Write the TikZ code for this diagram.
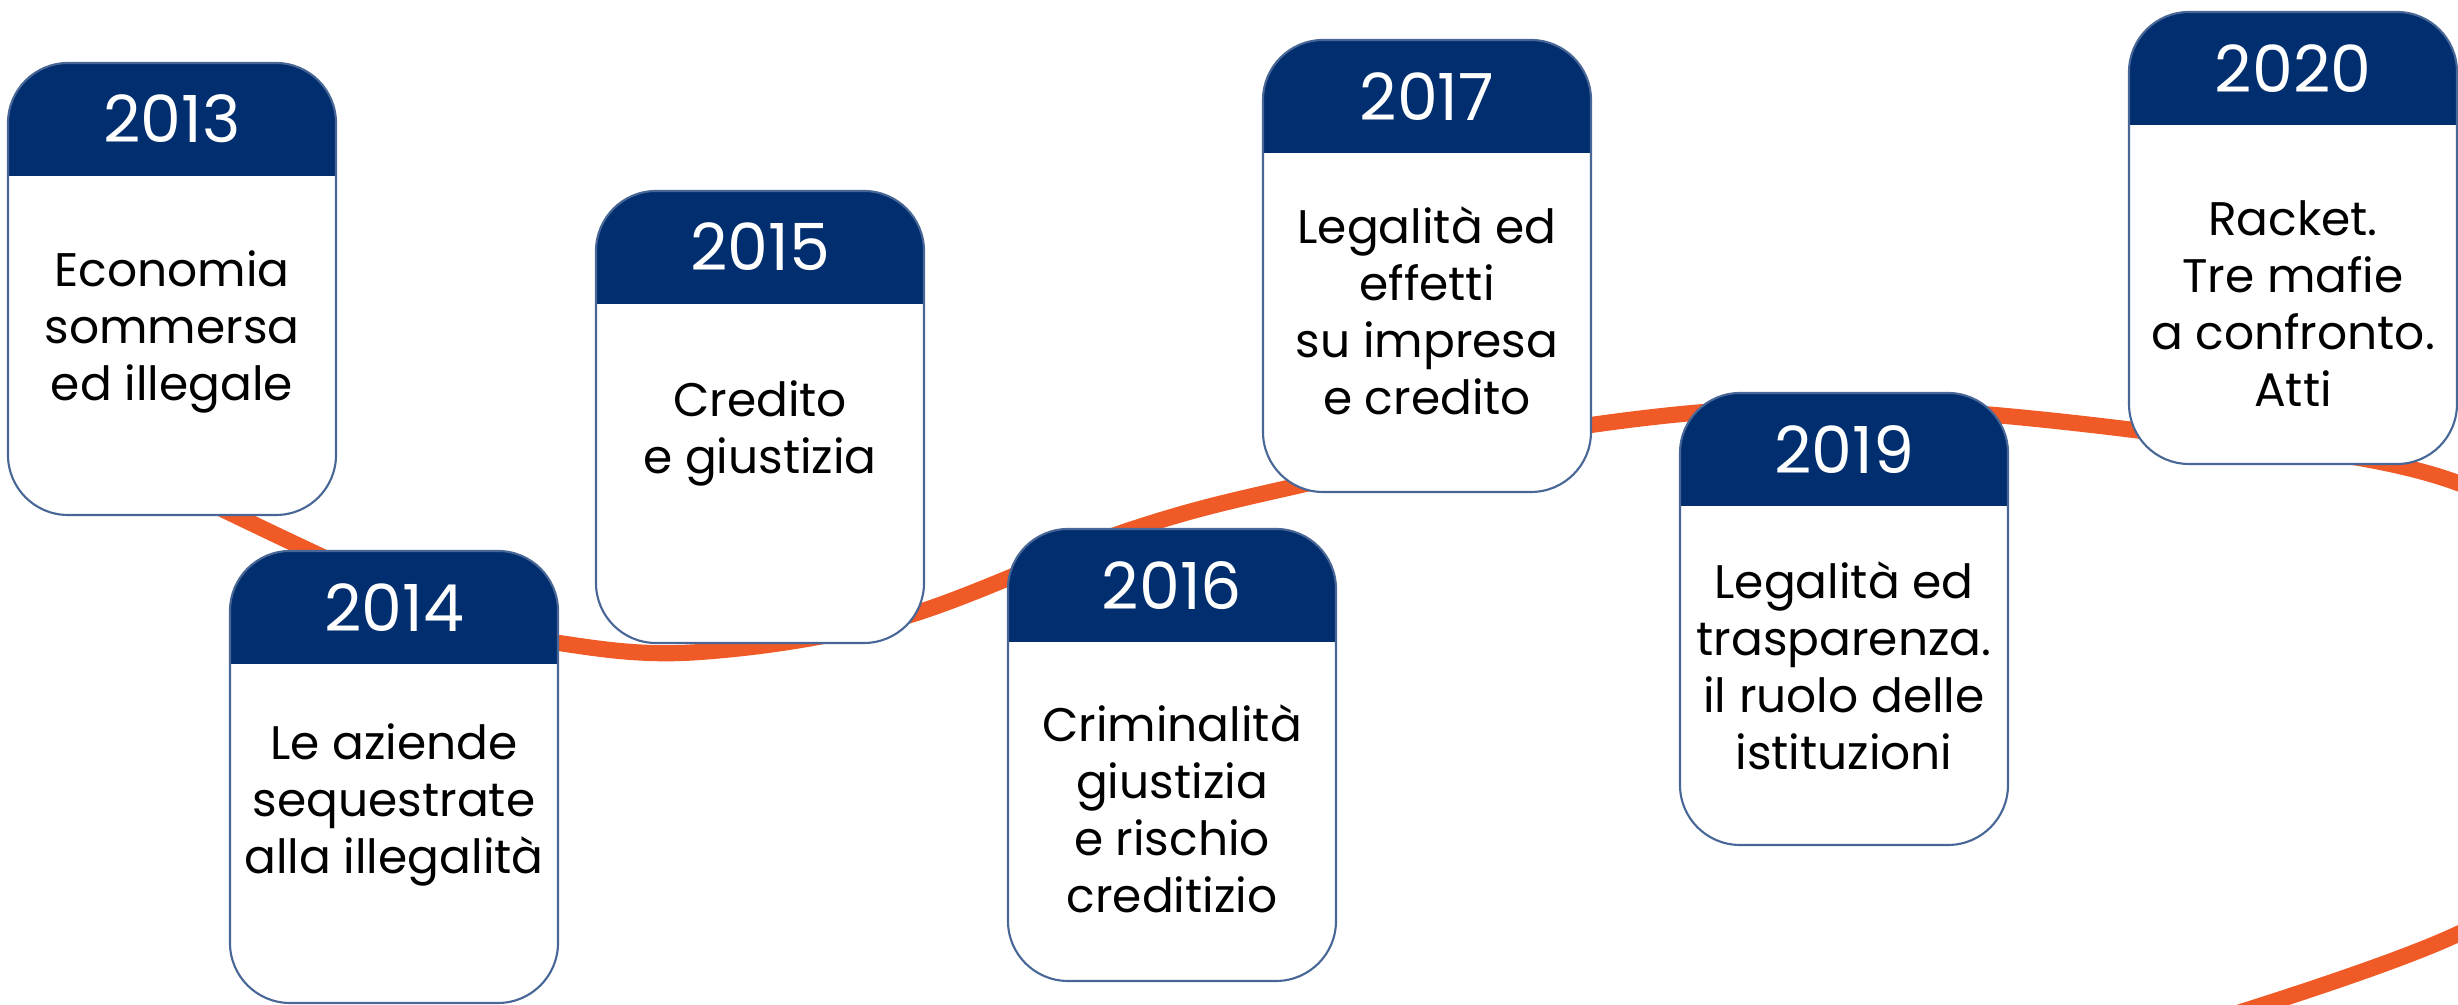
\documentclass[tikz,border=0pt]{standalone}
\usepackage{fontspec}
\setmainfont{Poppins}
\usetikzlibrary{positioning, calc}

\definecolor{headblue}{RGB}{0,46,110}
\definecolor{edgeblue}{RGB}{72,102,150}
\definecolor{lineorange}{RGB}{240,90,38}

\begin{document}
\begin{tikzpicture}[
    card/.style={rectangle, draw=edgeblue, line width=0.6pt, fill=white, rounded corners=6mm,
        minimum width=3.28cm, minimum height=4.52cm,
        path picture={\fill[headblue, sharp corners] (path picture bounding box.north west) rectangle ([yshift=-1.13cm]path picture bounding box.north east);}},
    year/.style={minimum width=3.28cm, minimum height=1.13cm, inner sep=0pt, text=white, font=\fontsize{18.5}{22}\selectfont},
    body/.style={inner sep=0pt, align=center, font=\fontsize{13.4}{16.2}\selectfont},
    timeline/.style={line width=4.6pt, lineorange}
]
\useasboundingbox (0,0) rectangle (24.58,10.05);

% Orange timeline behind the cards
\begin{scope}
\clip (0,0) rectangle (24.58,10.05);
\draw[timeline] plot[smooth, tension=0.6] coordinates {(1.70,5.21) (3.10,4.54) (4.50,3.90) (5.59,3.62) (7.00,3.53) (9.00,3.87) (11.30,4.75) (13.10,5.22) (15.91,5.80) (18.50,5.98) (21.50,5.73) (24.58,5.22) (26.60,3.85) (26.60,2.05) (24.58,0.71) (21.50,-0.35)};
\end{scope}

% Cards
\node[card] (c2013) at (1.72,7.16) {};
\node[year, below=0pt of c2013.north] (y2013) {2013};
\node[body, below=0.74cm of y2013] (t2013) {Economia\\sommersa\\ed illegale};

\node[card] (c2014) at (3.94,2.28) {};
\node[year, below=0pt of c2014.north] (y2014) {2014};
\node[body, below=0.59cm of y2014] (t2014) {Le aziende\\sequestrate\\alla illegalità};

\node[card] (c2015) at (7.60,5.88) {};
\node[year, below=0pt of c2015.north] (y2015) {2015};
\node[body, below=0.76cm of y2015] (t2015) {Credito\\e giustizia};

\node[card] (c2016) at (11.72,2.50) {};
\node[year, below=0pt of c2016.north] (y2016) {2016};
\node[body, below=0.62cm of y2016] (t2016) {Criminalità\\giustizia\\e rischio\\creditizio};

\node[card] (c2017) at (14.27,7.39) {};
\node[year, below=0pt of c2017.north] (y2017) {2017};
\node[body, below=0.53cm of y2017] (t2017) {Legalità ed\\effetti\\su impresa\\e credito};

\node[card] (c2019) at (18.44,3.86) {};
\node[year, below=0pt of c2019.north] (y2019) {2019};
\node[body, below=0.55cm of y2019] (t2019) {Legalità ed\\trasparenza.\\il ruolo delle\\istituzioni};

\node[card] (c2020) at (22.93,7.67) {};
\node[year, below=0pt of c2020.north] (y2020) {2020};
\node[body, below=0.75cm of y2020] (t2020) {Racket.\\Tre mafie\\a confronto.\\Atti};

\end{tikzpicture}
\end{document}
